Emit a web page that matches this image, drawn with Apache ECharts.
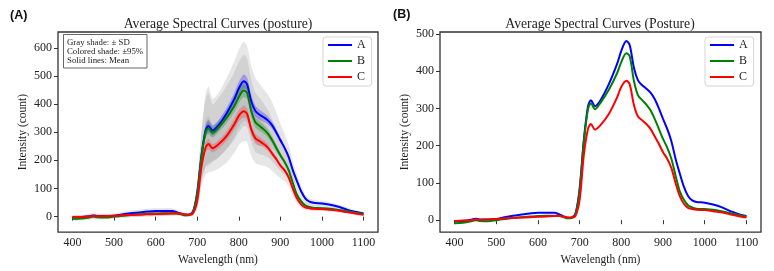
<!DOCTYPE html>
<html>
<head>
<meta charset="utf-8">
<script src="https://cdn.jsdelivr.net/npm/echarts@6/dist/echarts.min.js"></script>
<style>
  html, body { margin: 0; padding: 0; background: #fff; }
  #chart { width: 774px; height: 271px; }
</style>
</head>
<body>
<div id="chart"></div>
<script>
// wavelengths (nm)
const wl = [400,420,440,450,460,480,500,520,540,560,580,600,620,640,650,660,670,680,690,700,
  710,720,727,737,750,770,790,800,812,820,830,840,850,860,870,880,890,900,910,920,
  930,940,950,960,970,980,1000,1020,1040,1060,1080,1100];

// mean intensity per group
const meanA = [-3,-2,1,4,2,2,3,8,12,15,18,20,20,20,16,11,6,7,18,85,
  215,305,322,306,322,365,420,455,481,470,410,375,362,353,342,325,300,272,245,212,
  165,126,90,65,53,49,47,42,35,25,17,11];
const meanB = [-8,-7,-3,0,-2,-3,0,3,6,8,10,11,12,12,12,9,5,6,16,80,
  210,298,314,298,315,350,395,425,448,440,375,335,322,310,295,272,245,218,195,165,
  120,78,55,40,34,31,30,28,24,19,14,10];
const meanC = [-2,-1,0,2,1,2,3,5,6,7,8,9,10,11,11,10,8,7,12,55,
  175,245,258,243,255,285,330,358,374,365,310,278,268,258,245,225,205,182,165,140,
  100,65,44,33,30,28,27,24,21,16,11,7];

// standard deviation (gray shade)
const sdA = [8,8,9,10,9,8,8,9,9,10,10,10,10,10,9,8,7,7,12,40,
  90,130,140,112,115,125,135,138,140,135,125,118,110,100,92,82,72,60,50,42,
  32,25,18,14,12,10,9,8,8,7,6,6];
const sdB = [7,7,8,9,8,7,7,8,8,9,9,9,9,9,8,7,6,6,11,36,
  82,118,125,100,104,112,120,124,126,122,112,105,100,92,84,75,66,55,46,38,
  30,22,16,12,10,9,8,7,7,6,5,5];
const sdC = [6,6,7,8,7,6,6,7,7,8,8,8,8,8,7,6,5,5,9,30,
  70,95,100,82,86,94,101,104,105,101,94,88,84,77,70,63,55,46,39,32,
  25,18,13,10,9,8,7,6,6,5,5,4];

// 95% confidence half-width (coloured shade)
const ciA = [2,2,2,2,2,2,2,2,2,2,2,2,2,2,2,2,2,2,3,8,
  15,20,22,18,18,20,23,24,25,24,22,20,18,16,15,13,11,10,8,7,
  6,4,3,3,2,2,2,2,2,2,2,2];
const ciB = [2,2,2,2,2,2,2,2,2,2,2,2,2,2,2,2,2,2,3,7,
  14,19,21,17,17,19,21,22,23,22,20,18,17,15,14,12,10,9,7,6,
  5,4,3,2,2,2,2,2,2,2,2,2];
const ciC = [2,2,2,2,2,2,2,2,2,2,2,2,2,2,2,2,2,2,3,6,
  12,17,18,15,15,17,19,20,21,20,18,16,15,13,12,11,9,8,7,6,
  5,3,2,2,2,2,2,2,2,2,2,2];

const groups = ['A', 'B', 'C'];
const colors = ['#0000ff', '#008000', '#ff0000'];
const means = [meanA, meanB, meanC];
const sds = [sdA, sdB, sdC];
const cis = [ciA, ciB, ciC];
const ciColors = ['rgba(0,0,255,0.25)', 'rgba(0,128,0,0.25)', 'rgba(255,0,0,0.22)'];

const xTicks = [400, 500, 600, 700, 800, 900, 1000, 1100];
const yTicksA = [0, 100, 200, 300, 400, 500, 600];
const yTicksB = [0, 100, 200, 300, 400, 500];

const SERIF = '"Liberation Serif", "Times New Roman", serif';

// shaded band (mean +- half) drawn as one polygon through the axis scales
function band(axis, mean, half, color, z) {
  let data = wl.map((x, i) => [x, mean[i] - half[i], mean[i] + half[i]]);
  return {
    type: 'custom', xAxisIndex: axis, yAxisIndex: axis, silent: true, z: z,
    encode: {x: 0, y: [1, 2]},
    data: data,
    renderItem: function (params, api) {
      if (params.dataIndex !== 0) return null;
      let top = data.map(d => api.coord([d[0], d[2]]));
      let bottom = data.map(d => api.coord([d[0], d[1]])).reverse();
      return {
        type: 'polygon',
        shape: {points: top.concat(bottom), smooth: 0.25},
        style: {fill: color, stroke: 'none'}
      };
    }
  };
}

function lines(axis) {
  return groups.map((g, k) => ({
    type: 'line', name: g, xAxisIndex: axis, yAxisIndex: axis,
    data: wl.map((x, i) => [x, means[k][i]]),
    symbol: 'none', smooth: 0.3, z: 5,
    lineStyle: {color: colors[k], width: 2},
    itemStyle: {color: colors[k]}
  }));
}

function xAxis(grid) {
  return {
    type: 'value', gridIndex: grid, min: 365, max: 1135,
    name: 'Wavelength (nm)', nameLocation: 'middle', nameGap: 18,
    nameTextStyle: {fontFamily: SERIF, fontSize: 11.5, color: '#222'},
    axisLine: {show: false},
    axisTick: {show: true, length: 4, customValues: xTicks, lineStyle: {color: '#333'}},
    axisLabel: {customValues: xTicks, margin: 5, fontFamily: SERIF, fontSize: 12, color: '#222',
      formatter: v => String(v)},
    splitLine: {show: false}
  };
}

function yAxis(grid, min, max, ticks) {
  return {
    type: 'value', gridIndex: grid, min: min, max: max,
    name: 'Intensity (count)', nameLocation: 'middle', nameGap: 29,
    nameTextStyle: {fontFamily: SERIF, fontSize: 11.5, color: '#222'},
    axisLine: {show: false},
    axisTick: {show: true, length: 4, customValues: ticks, lineStyle: {color: '#333'}},
    axisLabel: {customValues: ticks, margin: 6, fontFamily: SERIF, fontSize: 12, color: '#222',
      formatter: v => String(v)},
    splitLine: {show: false}
  };
}

function legend(left) {
  return {
    data: groups, orient: 'vertical', left: left, top: 37,
    icon: 'rect', itemWidth: 24, itemHeight: 2, itemGap: 2, itemTextGap: 10,
    padding: [1, 6, 2, 5],
    backgroundColor: 'rgba(255,255,255,0.85)', borderColor: '#d5d5d5', borderWidth: 1, borderRadius: 3,
    textStyle: {fontFamily: SERIF, fontSize: 12, color: '#222', lineHeight: 14}
  };
}

let series = [];
// panel A: gray SD, coloured 95% CI, then mean lines
for (let k = 0; k < 3; k++) series.push(band(0, means[k], sds[k], 'rgba(128,128,128,0.2)', 1));
for (let k = 0; k < 3; k++) series.push(band(0, means[k], cis[k], ciColors[k], 2));
series = series.concat(lines(0));
// panel B: mean lines only
series = series.concat(lines(1));

let chart = echarts.init(document.getElementById('chart'), null, {renderer: 'canvas'});
chart.setOption({
  animation: false,
  backgroundColor: '#fff',
  grid: [
    {left: 58, top: 32, width: 320, height: 202, show: true, borderColor: '#333', borderWidth: 1.3, backgroundColor: 'transparent'},
    {left: 440, top: 32, width: 321, height: 202, show: true, borderColor: '#333', borderWidth: 1.3, backgroundColor: 'transparent'}
  ],
  xAxis: [xAxis(0), xAxis(1)],
  yAxis: [yAxis(0, -55, 656, yTicksA), yAxis(1, -32, 505, yTicksB)],
  legend: [legend(323), legend(705)],
  series: series,
  graphic: [
    {type: 'text', left: 10, top: 9, style: {text: '(A)', font: 'bold 12.5px "Liberation Sans", Arial, sans-serif', fill: '#111'}},
    {type: 'text', left: 393, top: 8, style: {text: '(B)', font: 'bold 12.5px "Liberation Sans", Arial, sans-serif', fill: '#111'}},
    {type: 'text', x: 218, y: 24, style: {text: 'Average Spectral Curves (posture)', font: '13.7px ' + SERIF, fill: '#222', align: 'center', verticalAlign: 'middle'}},
    {type: 'text', x: 600, y: 24, style: {text: 'Average Spectral Curves (Posture)', font: '13.7px ' + SERIF, fill: '#222', align: 'center', verticalAlign: 'middle'}},
    {type: 'rect', z: 100, shape: {x: 63.5, y: 34.5, width: 83.5, height: 33.5}, style: {fill: '#fff', stroke: '#666', lineWidth: 1}},
    {type: 'text', z: 101, x: 67, y: 38, style: {text: 'Gray shade: \u00b1 SD\nColored shade: \u00b195%\nSolid lines: Mean', font: '8.8px ' + SERIF, fill: '#222', lineHeight: 9}}
  ]
});
</script>
</body>
</html>
